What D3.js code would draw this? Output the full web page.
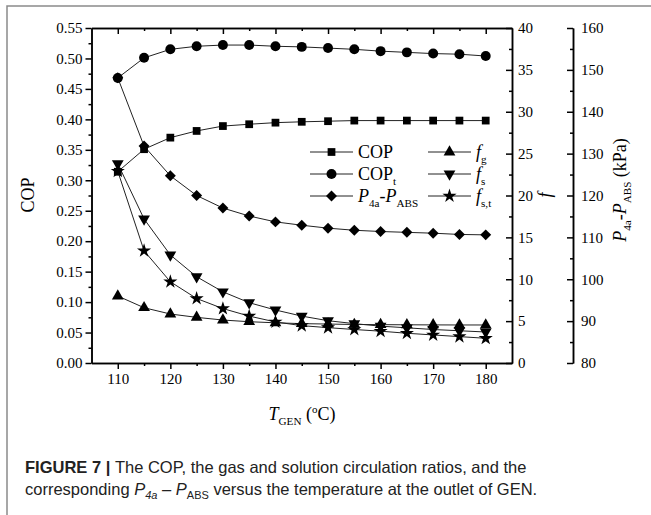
<!DOCTYPE html>
<html>
<head>
<meta charset="utf-8">
<script src="https://cdn.jsdelivr.net/npm/d3@7"></script>
<style>
  html, body { margin: 0; padding: 0; background: #fff; }
  svg { display: block; }
  .axis path, .axis line { stroke: #000; stroke-width: 1.5; }
  svg text { font-family: "Liberation Serif", "Times New Roman", serif; }
</style>
</head>
<body>
<svg id="chart" width="651" height="515"></svg>
<script>
// ---- data ----
const temps = [110, 115, 120, 125, 130, 135, 140, 145, 150, 155, 160, 165, 170, 175, 180];
const cop   = [0.314, 0.351, 0.370, 0.381, 0.389, 0.392, 0.3946, 0.396, 0.397, 0.398, 0.398, 0.398, 0.398, 0.398, 0.398];
const copT  = [0.468, 0.501, 0.515, 0.520, 0.522, 0.522, 0.520, 0.519, 0.517, 0.515, 0.512, 0.510, 0.508, 0.507, 0.504];
const dP    = [148.1, 131.8, 124.7, 120.0, 117.0, 115.1, 113.7, 112.9, 112.2, 111.7, 111.4, 111.2, 111.0, 110.7, 110.6];
const fg    = [8.0, 6.6, 5.85, 5.45, 5.13, 4.93, 4.8, 4.7, 4.65, 4.6, 4.58, 4.56, 4.55, 4.54, 4.54];
const fs    = [23.8, 17.2, 12.9, 10.3, 8.5, 7.2, 6.33, 5.6, 5.05, 4.7, 4.4, 4.2, 4.0, 3.85, 3.7];
const fst   = [22.9, 13.4, 9.7, 7.7, 6.5, 5.6, 4.9, 4.46, 4.22, 4.0, 3.8, 3.55, 3.35, 3.15, 2.95];

const xTicks    = [110, 120, 130, 140, 150, 160, 170, 180];
const xMinor    = [115, 125, 135, 145, 155, 165, 175];
const copTicks  = [0, 0.05, 0.10, 0.15, 0.20, 0.25, 0.30, 0.35, 0.40, 0.45, 0.50, 0.55];
const copMinor  = [0.025, 0.075, 0.125, 0.175, 0.225, 0.275, 0.325, 0.375, 0.425, 0.475, 0.525];
const fTicks    = [0, 5, 10, 15, 20, 25, 30, 35, 40];
const fMinor    = [2.5, 7.5, 12.5, 17.5, 22.5, 27.5, 32.5, 37.5];
const pTicks    = [80, 90, 100, 110, 120, 130, 140, 150, 160];
const pMinor    = [85, 95, 105, 115, 125, 135, 145, 155];

// ---- layout ----
const L = 91.5, R = 512, T = 28, B = 363, R2 = 573;
const svg = d3.select("#chart");
const serif = '"Liberation Serif", "Times New Roman", serif';

// border of the figure panel
svg.append("path").attr("d", "M7,515 V6 H651").attr("fill", "none").attr("stroke", "#8a8a8a").attr("stroke-width", 1.5);

const x = d3.scaleLinear().domain([105, 185]).range([L, R]);
const yC = d3.scaleLinear().domain([0, 0.55]).range([B, T]);
const yF = d3.scaleLinear().domain([0, 40]).range([B, T]);
const yP = d3.scaleLinear().domain([80, 160]).range([B, T]);

// axes
function addAxis(axis, tr) {
  const a = svg.append("g").attr("class", "axis").attr("transform", tr).call(axis);
  a.attr("font-family", null).attr("font-size", null);
  a.selectAll("text").style("font-family", serif).style("font-size", "15px").attr("fill", "#000");
  return a;
}
// bottom
addAxis(d3.axisBottom(x).tickValues(xTicks).tickFormat(d3.format("d")).tickSizeInner(6).tickSizeOuter(0).tickPadding(4), `translate(0,${B})`);
addAxis(d3.axisBottom(x).tickValues(xMinor).tickFormat("").tickSizeInner(3).tickSizeOuter(0), `translate(0,${B})`);
// top (ticks inward)
addAxis(d3.axisBottom(x).tickValues(xTicks).tickFormat("").tickSizeInner(6).tickSizeOuter(0), `translate(0,${T})`);
addAxis(d3.axisBottom(x).tickValues(xMinor).tickFormat("").tickSizeInner(3).tickSizeOuter(0), `translate(0,${T})`);
// left COP
addAxis(d3.axisLeft(yC).tickValues(copTicks).tickFormat(d3.format(".2f")).tickSizeInner(6).tickSizeOuter(0).tickPadding(3), `translate(${L},0)`);
addAxis(d3.axisLeft(yC).tickValues(copMinor).tickFormat("").tickSizeInner(3).tickSizeOuter(0), `translate(${L},0)`);
// right f (ticks pointing left)
addAxis(d3.axisRight(yF).tickValues(fTicks).tickFormat(d3.format("d")).tickSizeInner(-6).tickSizeOuter(0).tickPadding(6), `translate(${R},0)`);
addAxis(d3.axisRight(yF).tickValues(fMinor).tickFormat("").tickSizeInner(-3).tickSizeOuter(0), `translate(${R},0)`);
// offset P axis
addAxis(d3.axisRight(yP).tickValues(pTicks).tickFormat(d3.format("d")).tickSizeInner(-6).tickSizeOuter(0).tickPadding(8), `translate(${R2},0)`);
addAxis(d3.axisRight(yP).tickValues(pMinor).tickFormat("").tickSizeInner(-3).tickSizeOuter(0), `translate(${R2},0)`);

// ---- series ----
const sym = {
  square:  d3.symbol().type(d3.symbolSquare).size(60),
  circle:  d3.symbol().type(d3.symbolCircle).size(78),
  diamond: d3.symbol().type(d3.symbolSquare).size(60),
  tri:     d3.symbol().type(d3.symbolTriangle).size(60),
  star:    d3.symbol().type(d3.symbolStar).size(62)
};
const series = [
  {name: "COP",  vals: cop,  y: yC, s: "square",  rot: 0},
  {name: "COPt", vals: copT, y: yC, s: "circle",  rot: 0},
  {name: "dP",   vals: dP,   y: yP, s: "diamond", rot: 45},
  {name: "fg",   vals: fg,   y: yF, s: "tri",     rot: 0},
  {name: "fs",   vals: fs,   y: yF, s: "tri",     rot: 180},
  {name: "fst",  vals: fst,  y: yF, s: "star",    rot: 0}
];
const g = svg.append("g");
series.forEach(se => {
  const pts = temps.map((t, i) => [x(t), se.y(se.vals[i])]);
  g.append("path").attr("d", d3.line()(pts)).attr("fill", "none").attr("stroke", "#222").attr("stroke-width", 1);
});
series.forEach(se => {
  temps.forEach((t, i) => {
    g.append("path").attr("d", sym[se.s]())
      .attr("transform", `translate(${x(t)},${se.y(se.vals[i])}) rotate(${se.rot})`)
      .attr("fill", "#000");
  });
});

// ---- legend ----
function richText(sel, parts, size) {
  parts.forEach(p => {
    const ts = sel.append("tspan").text(p.t);
    if (p.i) ts.attr("font-style", "italic");
    if (p.sub) ts.attr("font-size", size * 0.62).attr("dy", 5);
    if (p.up) ts.attr("dy", -5);
  });
}
const legendItems = [
  {col: 0, row: 0, s: "square",  rot: 0,   parts: [{t: "COP"}]},
  {col: 0, row: 1, s: "circle",  rot: 0,   parts: [{t: "COP"}, {t: "t", sub: true}]},
  {col: 0, row: 2, s: "diamond", rot: 45,  parts: [{t: "P", i: true}, {t: "4a", sub: true}, {t: "-", up: true}, {t: "P", i: true}, {t: "ABS", sub: true}]},
  {col: 1, row: 0, s: "tri",     rot: 0,   parts: [{t: "f", i: true}, {t: "g", sub: true}]},
  {col: 1, row: 1, s: "tri",     rot: 180, parts: [{t: "f", i: true}, {t: "s", sub: true}]},
  {col: 1, row: 2, s: "star",    rot: 0,   parts: [{t: "f", i: true}, {t: "s,t", sub: true}]}
];
const colX = [310, 428], rowY = [152, 174, 196];
legendItems.forEach(it => {
  const x0 = colX[it.col], y0 = rowY[it.row];
  svg.append("line").attr("x1", x0).attr("x2", x0 + 43).attr("y1", y0).attr("y2", y0).attr("stroke", "#222").attr("stroke-width", 1);
  svg.append("path").attr("d", sym[it.s]()).attr("transform", `translate(${x0 + 21.5},${y0}) rotate(${it.rot})`).attr("fill", "#000");
  const tx = svg.append("text").attr("x", x0 + 48).attr("y", y0 + 6).attr("font-size", 18);
  richText(tx, it.parts, 18);
});

// ---- axis titles ----
svg.append("text").attr("transform", "translate(34,195) rotate(-90)").attr("text-anchor", "middle")
  .attr("font-size", 18).text("COP");
svg.append("text").attr("transform", "translate(551,195) rotate(-90)").attr("text-anchor", "middle")
  .attr("font-size", 18).attr("font-style", "italic").text("f");
const pt = svg.append("text").attr("transform", "translate(626,190) rotate(-90)").attr("text-anchor", "middle")
  .attr("font-size", 18);
richText(pt, [{t: "P", i: true}, {t: "4a", sub: true}, {t: "-", up: true}, {t: "P", i: true}, {t: "ABS", sub: true}, {t: " (kPa)", up: true}], 18);
const xt = svg.append("text").attr("x", 302).attr("y", 420).attr("text-anchor", "middle")
  .attr("font-size", 18);
richText(xt, [{t: "T", i: true}, {t: "GEN", sub: true}, {t: " (", up: true}, {t: "o"}, {t: "C)"}], 18);
// make the degree "o" superscript
xt.selectAll("tspan").filter((d, i) => i === 3).attr("font-size", 11).attr("dy", -7);
xt.selectAll("tspan").filter((d, i) => i === 4).attr("dy", 7);

// ---- caption ----
const sans = '"Liberation Sans", Arial, sans-serif';
const c1 = svg.append("text").attr("x", 25).attr("y", 473).style("font-family", sans).attr("font-size", 16.5).attr("fill", "#222");
c1.append("tspan").attr("font-weight", "bold").text("FIGURE 7 | ");
c1.append("tspan").text("The COP, the gas and solution circulation ratios, and the");
const c2 = svg.append("text").attr("x", 25).attr("y", 495).style("font-family", sans).attr("font-size", 16.5).attr("fill", "#222");
c2.append("tspan").text("corresponding ");
c2.append("tspan").attr("font-style", "italic").text("P");
c2.append("tspan").attr("font-style", "italic").attr("font-size", 11).attr("dy", 4).text("4a");
c2.append("tspan").attr("dy", -4).text(" \u2013 ");
c2.append("tspan").attr("font-style", "italic").text("P");
c2.append("tspan").attr("font-size", 11).attr("dy", 4).text("ABS");
c2.append("tspan").attr("dy", -4).text(" versus the temperature at the outlet of GEN.");
</script>
</body>
</html>
